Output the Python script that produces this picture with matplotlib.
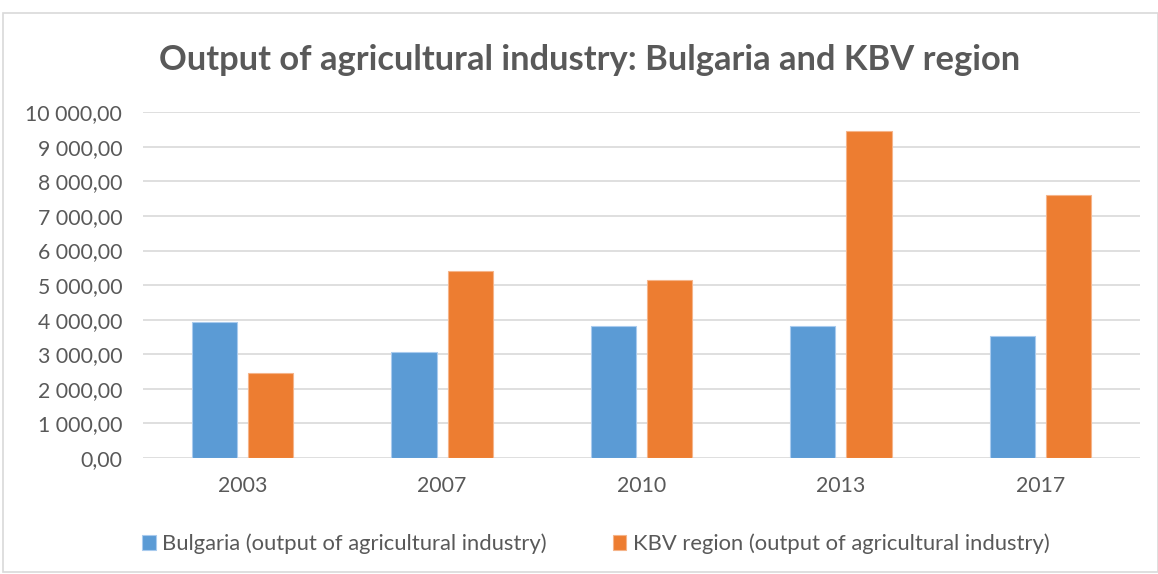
import matplotlib
matplotlib.use("Agg")
import matplotlib.pyplot as plt
import numpy as np
from matplotlib.ticker import FuncFormatter, MultipleLocator
from matplotlib.patches import Rectangle

years = ["2003", "2007", "2010", "2013", "2017"]
bulgaria = [3930, 3080, 3815, 3815, 3525]
kbv = [2445, 5415, 5155, 9460, 7600]
series_names = ["Bulgaria (output of agricultural industry)",
                "KBV region (output of agricultural industry)"]
title = "Output of agricultural industry: Bulgaria and KBV region"

plt.rcParams['font.family'] = ['Lato', 'DejaVu Sans']
txt = '#595959'

fig = plt.figure(figsize=(11.58, 5.74), dpi=100)
fig.patch.set_facecolor('white')
fig.add_artist(Rectangle((3/1158, 2/574), 1 - 3/1158, 1 - 15/574, transform=fig.transFigure,
                         fill=False, edgecolor='#d9d9d9', linewidth=1.2))

ax = fig.add_axes([143/1158, 1 - 458/574, (1140 - 143)/1158, (458 - 112.3)/574])
x = np.arange(len(years))
w = 0.226
off = 0.141
ax.bar(x - off, bulgaria, w, color='#5B9BD5', edgecolor='#a9cbee', linewidth=0.8,
       label=series_names[0], zorder=3)
ax.bar(x + off, kbv, w, color='#ED7D31', edgecolor='#f5b48a', linewidth=0.8,
       label=series_names[1], zorder=3)

ax.set_xlim(-0.5, len(years) - 0.5)
ax.set_ylim(0, 10000)
ax.yaxis.set_major_locator(MultipleLocator(1000))
ax.yaxis.set_major_formatter(FuncFormatter(lambda v, p: f"{v:,.2f}".replace(",", " ").replace(".", ",")))
ax.set_xticks(x)
ax.set_xticklabels(years)
ax.grid(axis='y', color='#d9d9d9', linewidth=1.2, zorder=0)
for s in ax.spines.values():
    s.set_visible(False)
ax.tick_params(axis='both', length=0, labelsize=15.3, colors=txt)
ax.tick_params(axis='y', pad=15)
ax.tick_params(axis='x', pad=13)

fig.text(590/1158, 1 - 60/574, title, ha='center', va='center', fontsize=24.8,
         fontweight='bold', color=txt)

leg = fig.legend(loc='center', bbox_to_anchor=(596/1158, 1 - 544/574), ncol=2, frameon=False,
                 fontsize=15.8, handlelength=0.62, handleheight=0.62, handletextpad=0.3,
                 columnspacing=3.0, labelcolor=txt)

fig.savefig("out.png", dpi=100, facecolor='white')
